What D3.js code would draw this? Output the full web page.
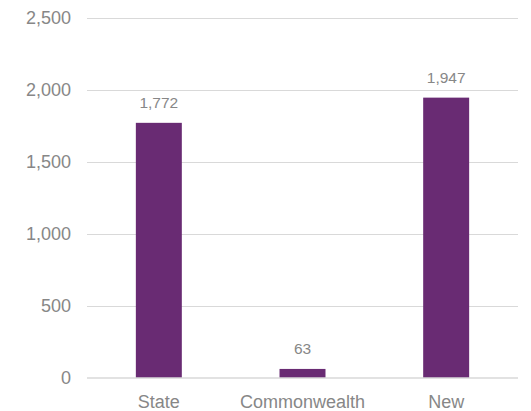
<!DOCTYPE html>
<html><head><meta charset="utf-8">
<script src="https://cdn.jsdelivr.net/npm/d3@7"></script>
<style>body{margin:0;background:#fff}svg{display:block}text{font-family:"Liberation Sans",Arial,sans-serif}</style>
</head><body><svg id="c" width="531" height="411"></svg>
<script>
const categories = ["State", "Commonwealth", "New"];
const values = [1772, 63, 1947];
const yTicks = [0, 500, 1000, 1500, 2000, 2500];

(function () {
const svg = d3.select("#c");
const mLeft = 87, mRight = 518, mTop = 18, mBottom = 378;
const x = d3.scaleBand().domain(categories).range([mLeft, mRight]).paddingInner(0.68).paddingOuter(0.34);
const y = d3.scaleLinear().domain([0, 2500]).range([mBottom, mTop]);
const txt = "#878787";

svg.append("g").selectAll("line").data(yTicks.filter(d => d > 0)).join("line")
  .attr("x1", mLeft).attr("x2", mRight)
  .attr("y1", d => y(d)).attr("y2", d => y(d))
  .attr("stroke", "#d9d9d9").attr("stroke-width", 1).attr("shape-rendering", "crispEdges");

svg.append("g").selectAll("text").data(yTicks).join("text")
  .attr("x", 71).attr("y", d => y(d)).attr("dy", "0.36em")
  .attr("text-anchor", "end").attr("fill", txt).attr("font-size", 18)
  .text(d => d3.format(",")(d));

svg.append("g").selectAll("rect").data(values).join("rect")
  .attr("x", (d, i) => x(categories[i])).attr("width", x.bandwidth())
  .attr("y", d => y(d)).attr("height", d => y(0) - y(d))
  .attr("fill", "#692b73");

svg.append("line").attr("x1", mLeft).attr("x2", mRight).attr("y1", y(0)).attr("y2", y(0))
  .attr("stroke", "#d9d9d9").attr("stroke-width", 1.5);

svg.append("g").selectAll("text").data(values).join("text")
  .attr("x", (d, i) => x(categories[i]) + x.bandwidth() / 2).attr("y", d => y(d) - 14.5)
  .attr("text-anchor", "middle").attr("fill", txt).attr("font-size", 15.5)
  .text(d => d3.format(",")(d));

svg.append("g").selectAll("text").data(categories).join("text")
  .attr("x", d => x(d) + x.bandwidth() / 2).attr("y", 408)
  .attr("text-anchor", "middle").attr("fill", txt).attr("font-size", 18)
  .text(d => d);
})();
</script></body></html>
